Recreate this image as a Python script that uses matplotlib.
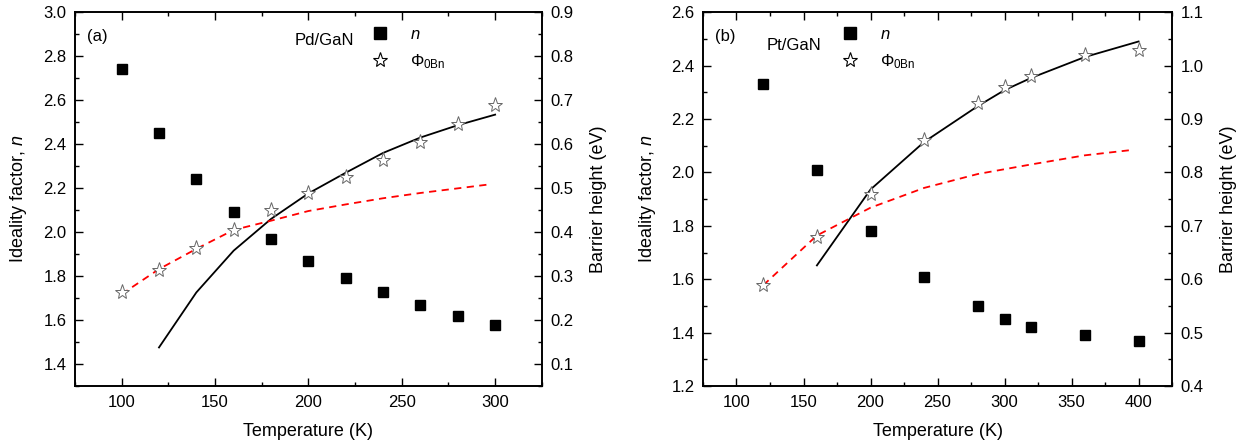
import numpy as np
import matplotlib.pyplot as plt
from matplotlib.lines import Line2D
from matplotlib.ticker import MultipleLocator

plt.rcParams['font.family'] = ['Liberation Sans', 'DejaVu Sans']
plt.rcParams['mathtext.fontset'] = 'custom'
plt.rcParams['mathtext.rm'] = 'Liberation Sans'
plt.rcParams['mathtext.it'] = 'Liberation Sans:italic'

# ---- panel (a) Pd/GaN ----
T_a = [100, 120, 140, 160, 180, 200, 220, 240, 260, 280, 300]
n_a = [2.74, 2.45, 2.24, 2.09, 1.97, 1.87, 1.79, 1.73, 1.67, 1.62, 1.58]
phi_a = [0.265, 0.315, 0.365, 0.405, 0.45, 0.49, 0.525, 0.565, 0.605, 0.645, 0.69]
fitT_a = [120, 140, 160, 180, 200, 220, 240, 260, 280, 300]
fit_a = [0.138, 0.263, 0.358, 0.43, 0.488, 0.535, 0.58, 0.615, 0.643, 0.667]
redT_a = [100, 120, 140, 160, 180, 200, 220, 240, 260, 280, 296]
red_a = [0.259, 0.316, 0.362, 0.405, 0.426, 0.448, 0.463, 0.477, 0.489, 0.4995, 0.508]

# ---- panel (b) Pt/GaN ----
T_b = [120, 160, 200, 240, 280, 300, 320, 360, 400]
n_b = [2.33, 2.01, 1.78, 1.61, 1.50, 1.45, 1.42, 1.39, 1.37]
phi_b = [0.59, 0.68, 0.76, 0.86, 0.93, 0.96, 0.98, 1.02, 1.03]
fitT_b = [160, 200, 240, 280, 300, 320, 360, 400]
fit_b = [0.626, 0.768, 0.857, 0.924, 0.954, 0.977, 1.016, 1.045]
redT_b = [120, 160, 200, 240, 280, 300, 320, 360, 395]
red_b = [0.589, 0.682, 0.734, 0.771, 0.797, 0.806, 0.815, 0.832, 0.842]

fig = plt.figure(figsize=(12.37, 4.48), dpi=100)

panels = [
    dict(rect=[0.0606, 0.138, 0.3774, 0.835], T=T_a, n=n_a, phi=phi_a, fT=fitT_a, f=fit_a,
         rT=redT_a, r=red_a, xlim=(75, 325), ylim=(1.3, 3.0), y2lim=(0.05, 0.9),
         tag='(a)', name='Pd/GaN', name_xy=(0.535, 0.925), leg_x=0.6),
    dict(rect=[0.5683, 0.138, 0.3792, 0.835], T=T_b, n=n_b, phi=phi_b, fT=fitT_b, f=fit_b,
         rT=redT_b, r=red_b, xlim=(75, 425), ylim=(1.2, 2.6), y2lim=(0.4, 1.1),
         tag='(b)', name='Pt/GaN', name_xy=(0.195, 0.91), leg_x=0.26),
]

for p in panels:
    ax = fig.add_axes(p['rect'])
    ax2 = ax.twinx()
    # ideality factor (left axis)
    ax.plot(p['T'], p['n'], 's', color='black', markersize=7)
    # barrier height: fit lines and data (right axis)
    ax2.plot(p['fT'], p['f'], '-', color='black', lw=1.3)
    ax2.plot(p['rT'], p['r'], '--', color='red', lw=1.3, dashes=(4, 3))
    ax2.plot(p['T'], p['phi'], '*', markerfacecolor='white',
             markeredgecolor='#666666', markeredgewidth=0.7, markersize=11)

    ax.set_xlim(*p['xlim'])
    ax.set_ylim(*p['ylim'])
    ax2.set_ylim(*p['y2lim'])
    ax.xaxis.set_major_locator(MultipleLocator(50))
    ax.xaxis.set_minor_locator(MultipleLocator(25))
    ax.yaxis.set_major_locator(MultipleLocator(0.2))
    ax.yaxis.set_minor_locator(MultipleLocator(0.1))
    ax2.yaxis.set_major_locator(MultipleLocator(0.1))
    ax2.yaxis.set_minor_locator(MultipleLocator(0.05))
    for a in (ax, ax2):
        a.tick_params(which='both', direction='in', labelsize=12, pad=6)
        a.tick_params(which='major', length=6, width=1)
        a.tick_params(which='minor', length=3, width=1)
        a.yaxis.set_major_formatter(plt.FormatStrFormatter('%.1f'))
    ax.tick_params(which='both', top=True)
    for s in list(ax.spines.values()) + list(ax2.spines.values()):
        s.set_linewidth(1.2)

    ax.set_xlabel('Temperature (K)', fontsize=13, labelpad=10)
    ax.set_ylabel('Ideality factor, $n$', fontsize=13, labelpad=10)
    ax2.set_ylabel('Barrier height (eV)', fontsize=13, labelpad=12)

    ax.text(0.025, 0.955, p['tag'], transform=ax.transAxes, fontsize=12, va='top')
    ax.text(p['name_xy'][0], p['name_xy'][1], p['name'], transform=ax.transAxes,
            fontsize=12, ha='center', va='center')

    handles = [Line2D([], [], ls='none', marker='s', color='black', markersize=8),
               Line2D([], [], ls='none', marker='*', markerfacecolor='white',
                      markeredgecolor='black', markeredgewidth=0.8, markersize=11)]
    ax.legend(handles, ['$n$', r'$\Phi_{\mathrm{0Bn}}$'], loc='upper left',
              bbox_to_anchor=(p['leg_x'], 1.0), frameon=False, fontsize=12,
              handlelength=1.2, handletextpad=1.2, labelspacing=0.6)

fig.savefig('out.png', dpi=100)
